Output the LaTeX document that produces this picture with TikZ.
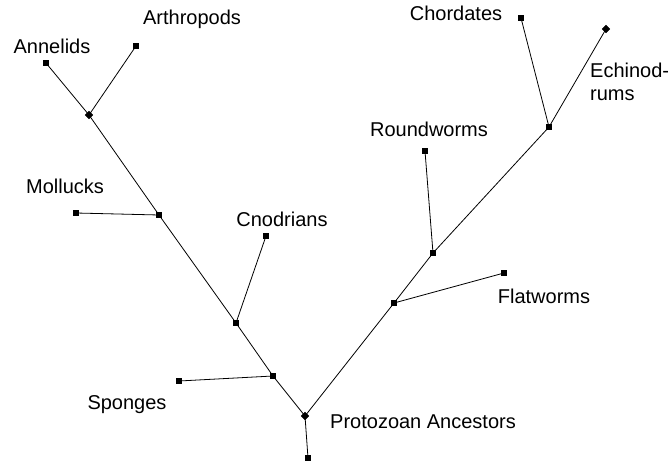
\documentclass[tikz,border=0pt]{standalone}
\usepackage{fontspec}
\setmainfont{Liberation Sans}
\usetikzlibrary{positioning}

\begin{document}
\begin{tikzpicture}[x=1pt, y=-1pt,
    dot/.style={draw, fill=black, rectangle, inner sep=0pt, minimum size=5pt},
    ddot/.style={dot, rotate=45, minimum size=5.5pt},
    taxon/.style={font=\fontsize{20}{23}\selectfont, inner sep=0pt},
    branch/.style={line width=0.8pt}]
    \useasboundingbox (0,0) rectangle (670,463);
    % trunk and junctions
    \node[dot]  (root) at (308,458) {};
    \node[ddot] (pa)   at (305,416) {};
    \node[dot]  (sj)   at (273,376) {};
    \node[dot]  (cj)   at (236,323) {};
    \node[dot]  (mj)   at (159,215) {};
    \node[ddot] (aj)   at (89,115)  {};
    \node[dot]  (fj)   at (394,303) {};
    \node[dot]  (rj)   at (433,253) {};
    \node[dot]  (chj)  at (549,127) {};
    % leaves
    \node[dot]  (ann)  at (46,63)   {};
    \node[dot]  (art)  at (136,46)  {};
    \node[dot]  (mol)  at (76,213)  {};
    \node[dot]  (cno)  at (266,236) {};
    \node[dot]  (spo)  at (179,381) {};
    \node[dot]  (fla)  at (504,273) {};
    \node[dot]  (rnd)  at (425,151) {};
    \node[dot]  (cho)  at (521,18)  {};
    \node[ddot] (ech)  at (606,29)  {};
    % labels
    \node[taxon] (tann) at (52,46)   {Annelids};
    \node[taxon] (tart) at (192,19)  {Arthropods};
    \node[taxon] (tmol) at (65,186)  {Mollucks};
    \node[taxon] (tcno) at (282,219) {Cnodrians};
    \node[taxon] (tspo) at (127,405) {Sponges};
    \node[taxon, anchor=west] (tpa) at (330,422) {Protozoan Ancestors};
    \node[taxon] (tfla) at (544,296) {Flatworms};
    \node[taxon] (trnd) at (429,129) {Roundworms};
    \node[taxon] (tcho) at (456,13)  {Chordates};
    \node[taxon, anchor=north west, align=left] (tech) at (590,63)
        {Echinod-\\rums};
    % branches
    \draw[branch] (root.center) -- (pa.center) -- (sj.center) -- (cj.center)
        -- (mj.center) -- (aj.center) -- (ann.center);
    \draw[branch] (pa.center) -- (fj.center) -- (rj.center) -- (chj.center)
        -- (ech.center);
    \draw[branch] (aj.center) -- (art.center);
    \draw[branch] (mj.center) -- (mol.center);
    \draw[branch] (cj.center) -- (cno.center);
    \draw[branch] (sj.center) -- (spo.center);
    \draw[branch] (fj.center) -- (fla.center);
    \draw[branch] (rj.center) -- (rnd.center);
    \draw[branch] (chj.center) -- (cho.center);
\end{tikzpicture}
\end{document}
